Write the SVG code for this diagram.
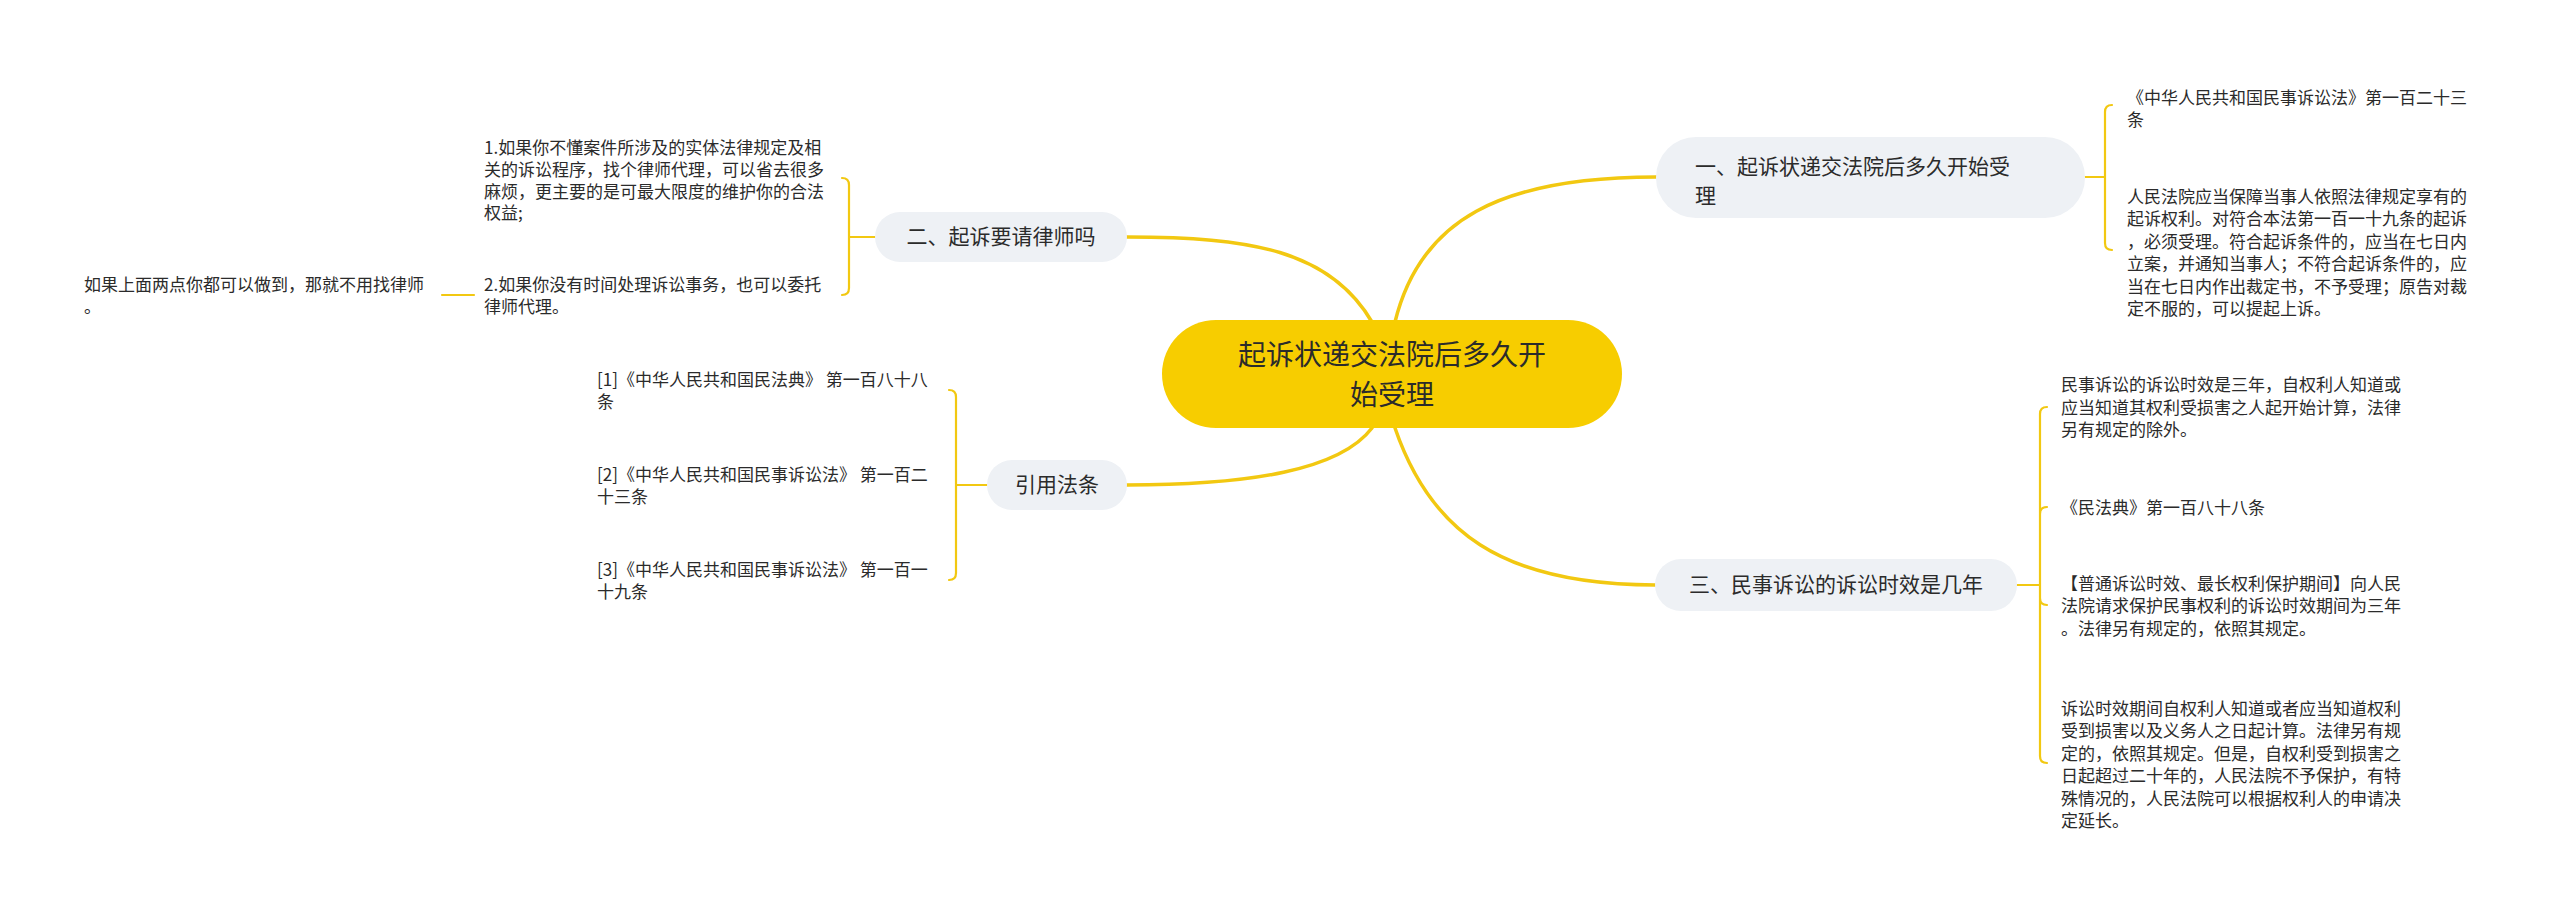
<svg xmlns="http://www.w3.org/2000/svg" width="2560" height="914" viewBox="0 0 2560 914">
<style>
.c{fill:none;stroke:#f2c811;stroke-width:3.5;stroke-linecap:round}
.b{fill:none;stroke:#f2c811;stroke-width:2.2;stroke-linecap:round}
.n{fill:#eef1f5}
text{font-family:"Noto Sans CJK SC","Noto Sans",sans-serif;fill:#2b2b2b}
.t{font-size:21px}
.l{font-size:17px}
.m{font-size:28px}
</style>
<rect width="2560" height="914" fill="#fff"/>
<g id="connectors">
<path class="c" d="M1395 322 C1420 220 1500 177 1656 177"/>
<path class="c" d="M1372 322 C1330 250 1250 237 1127 237"/>
<path class="c" d="M1372 428 C1340 470 1250 485 1127 485"/>
<path class="c" d="M1395 428 C1430 530 1500 585 1655 585"/>
<path class="b" d="M2085 177 H2105 M2105 177 V112 Q2105 105 2112 105 M2105 177 V243 Q2105 250 2112 250"/>
<path class="b" d="M875 237 H849 M849 237 V185 Q849 178 842 178 M849 237 V288 Q849 295 842 295"/>
<path class="b" d="M442 295 H474"/>
<path class="b" d="M987 485 H956 M956 485 V397 Q956 390 949 390 M956 485 V573 Q956 580 949 580"/>
<path class="b" d="M2017 585 H2040 M2040 585 V414 Q2040 407 2047 407 M2040 585 V514 Q2040 507 2047 507 M2040 585 V598 Q2040 605 2047 605 M2040 585 V756 Q2040 763 2047 763"/>
</g>
<g id="center">
<rect x="1162" y="320" width="460" height="108" rx="54" fill="#f7cd00"/>
<text class="m" x="1392" y="365" text-anchor="middle">起诉状递交法院后多久开</text>
<text class="m" x="1392" y="405" text-anchor="middle">始受理</text>
</g>
<g id="n1">
<rect class="n" x="1656" y="137" width="429" height="81" rx="40"/>
<text class="t" x="1695" y="174">一、起诉状递交法院后多久开始受</text>
<text class="t" x="1695" y="203">理</text>
</g>
<g id="n1a"><text class="l" x="2127" y="104">《中华人民共和国民事诉讼法》第一百二十三</text><text class="l" x="2127" y="126">条</text></g>
<g id="n1b" class="l">
<text class="l" x="2127" y="203">人民法院应当保障当事人依照法律规定享有的</text>
<text class="l" x="2127" y="225">起诉权利。对符合本法第一百一十九条的起诉</text>
<text class="l" x="2127" y="248">，必须受理。符合起诉条件的，应当在七日内</text>
<text class="l" x="2127" y="270">立案，并通知当事人；不符合起诉条件的，应</text>
<text class="l" x="2127" y="293">当在七日内作出裁定书，不予受理；原告对裁</text>
<text class="l" x="2127" y="315">定不服的，可以提起上诉。</text>
</g>
<g id="n2">
<rect class="n" x="875" y="212" width="252" height="50" rx="25"/>
<text class="t" x="1001" y="244" text-anchor="middle">二、起诉要请律师吗</text>
</g>
<g id="n2a">
<text class="l" x="484" y="154">1.如果你不懂案件所涉及的实体法律规定及相</text>
<text class="l" x="484" y="176">关的诉讼程序，找个律师代理，可以省去很多</text>
<text class="l" x="484" y="198">麻烦，更主要的是可最大限度的维护你的合法</text>
<text class="l" x="484" y="219">权益;</text>
</g>
<g id="n2b">
<text class="l" x="484" y="291">2.如果你没有时间处理诉讼事务，也可以委托</text>
<text class="l" x="484" y="313">律师代理。</text>
</g>
<g id="n2c">
<text class="l" x="84" y="291">如果上面两点你都可以做到，那就不用找律师</text>
<text class="l" x="84" y="313">。</text>
</g>
<g id="n3">
<rect class="n" x="987" y="460" width="140" height="50" rx="25"/>
<text class="t" x="1057" y="492" text-anchor="middle">引用法条</text>
</g>
<g id="n3a"><text class="l" x="597" y="386">[1]《中华人民共和国民法典》 第一百八十八</text><text class="l" x="597" y="408">条</text></g>
<g id="n3b"><text class="l" x="597" y="481">[2]《中华人民共和国民事诉讼法》 第一百二</text><text class="l" x="597" y="503">十三条</text></g>
<g id="n3c"><text class="l" x="597" y="576">[3]《中华人民共和国民事诉讼法》 第一百一</text><text class="l" x="597" y="598">十九条</text></g>
<g id="n4">
<rect class="n" x="1655" y="559" width="362" height="52" rx="26"/>
<text class="t" x="1836" y="592" text-anchor="middle">三、民事诉讼的诉讼时效是几年</text>
</g>
<g id="n4a">
<text class="l" x="2061" y="391">民事诉讼的诉讼时效是三年，自权利人知道或</text>
<text class="l" x="2061" y="414">应当知道其权利受损害之人起开始计算，法律</text>
<text class="l" x="2061" y="436">另有规定的除外。</text>
</g>
<g id="n4b"><text class="l" x="2061" y="514">《民法典》第一百八十八条</text></g>
<g id="n4c">
<text class="l" x="2061" y="590">【普通诉讼时效、最长权利保护期间】向人民</text>
<text class="l" x="2061" y="612">法院请求保护民事权利的诉讼时效期间为三年</text>
<text class="l" x="2061" y="635">。法律另有规定的，依照其规定。</text>
</g>
<g id="n4d">
<text class="l" x="2061" y="715">诉讼时效期间自权利人知道或者应当知道权利</text>
<text class="l" x="2061" y="737">受到损害以及义务人之日起计算。法律另有规</text>
<text class="l" x="2061" y="760">定的，依照其规定。但是，自权利受到损害之</text>
<text class="l" x="2061" y="782">日起超过二十年的，人民法院不予保护，有特</text>
<text class="l" x="2061" y="805">殊情况的，人民法院可以根据权利人的申请决</text>
<text class="l" x="2061" y="827">定延长。</text>
</g>
</svg>
